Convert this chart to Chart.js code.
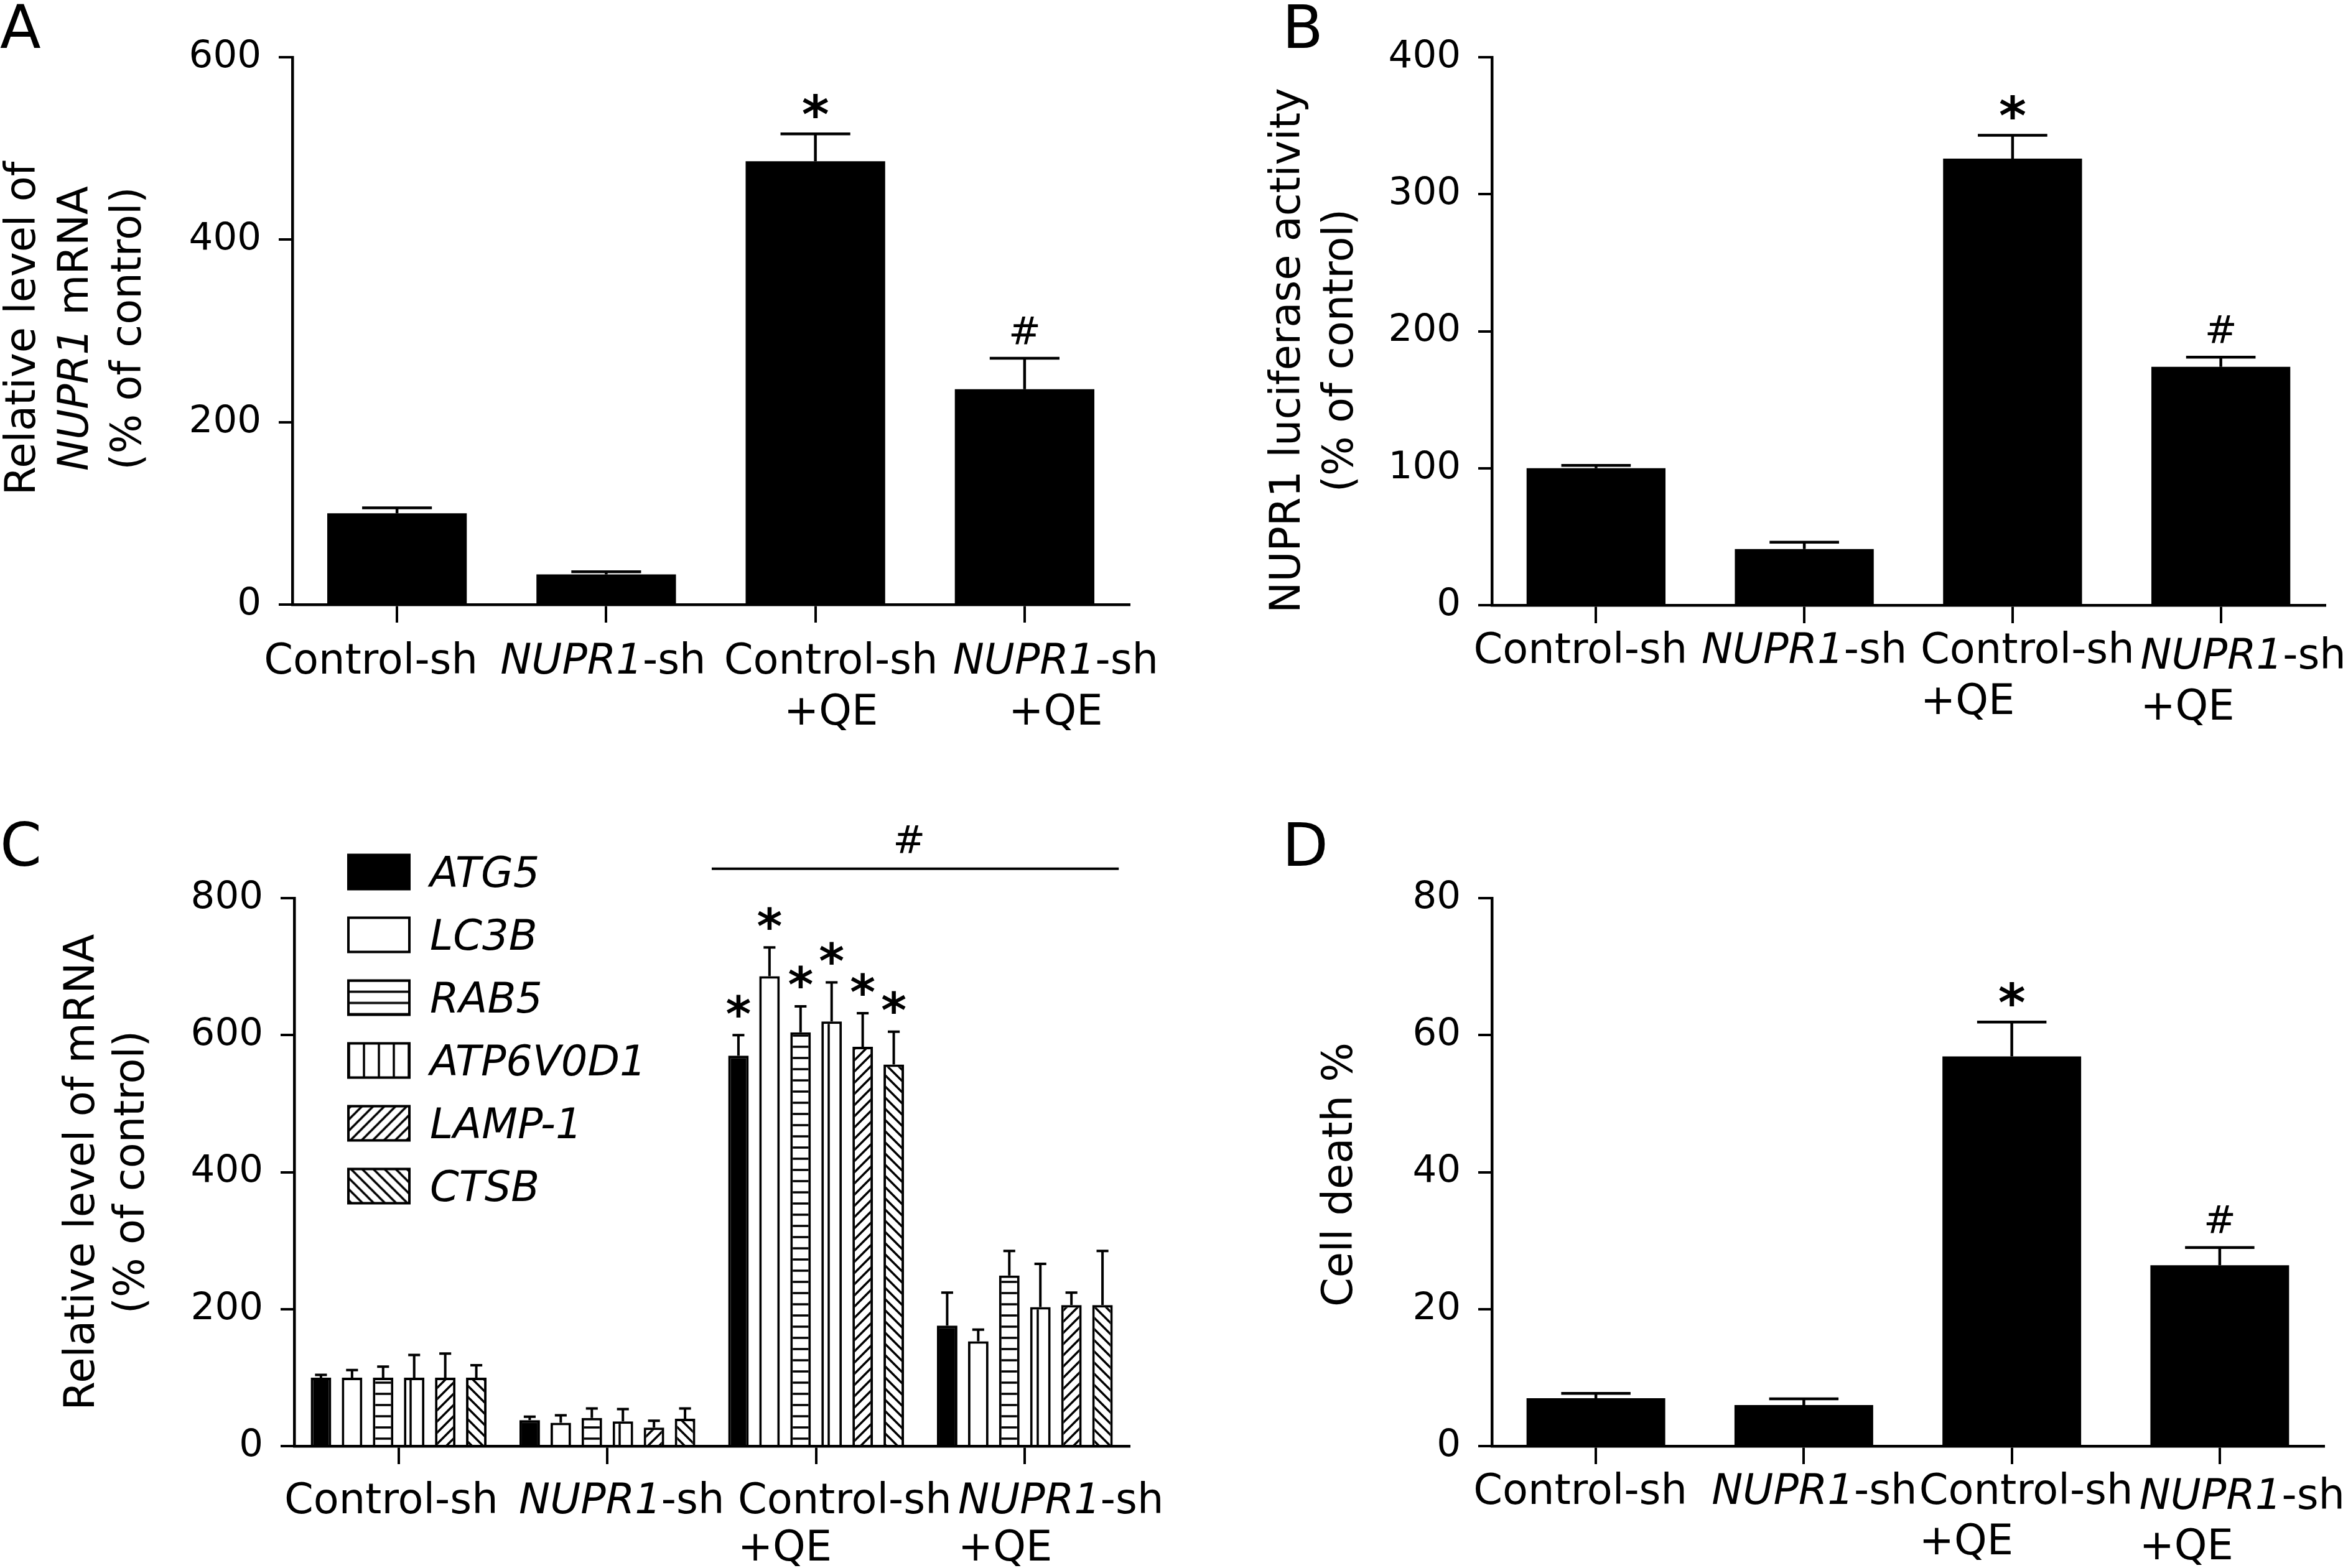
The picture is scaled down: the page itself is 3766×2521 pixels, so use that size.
<!DOCTYPE html>
<html>
<head>
<meta charset="utf-8">
<script src="https://cdn.jsdelivr.net/npm/chart.js@4.4.0/dist/chart.umd.min.js"></script>
<style>
  body { margin: 0; background: #fff; }
  #wrap { position: relative; width: 3766px; height: 2521px; background: #fff; }
  canvas { position: absolute; }
</style>
</head>
<body>
<div id="wrap">
  <canvas id="panelA" width="1883" height="1260" style="left:0px;top:0px"></canvas>
  <canvas id="panelB" width="1883" height="1260" style="left:1883px;top:0px"></canvas>
  <canvas id="panelC" width="1883" height="1261" style="left:0px;top:1260px"></canvas>
  <canvas id="panelD" width="1883" height="1261" style="left:1883px;top:1260px"></canvas>
</div>
<script>
// groups on the x axis, text between _ _ is set in italics
const groupLabels = [['Control-sh'], ['_NUPR1_-sh'], ['Control-sh', '+QE'], ['_NUPR1_-sh', '+QE']];

// A - NUPR1 mRNA
const mrnaTicks = [0, 200, 400, 600];
const mrnaMean = [100, 33, 486, 236];
const mrnaSem = [6, 3, 30, 34];
const mrnaMarks = ['', '', '*', '#'];

// B - NUPR1 luciferase
const lucTicks = [0, 100, 200, 300, 400];
const lucMean = [100, 41, 326, 174];
const lucSem = [2, 5, 17, 7];
const lucMarks = ['', '', '*', '#'];

// C - autophagy / lysosome genes
const geneTicks = [0, 200, 400, 600, 800];
const geneNames = ['ATG5', 'LC3B', 'RAB5', 'ATP6V0D1', 'LAMP-1', 'CTSB'];
const atg5Mean = [100, 38, 570, 176];
const atg5Sem = [4, 5, 30, 48];
const lc3bMean = [100, 34, 686, 153];
const lc3bSem = [11, 11, 42, 17];
const rab5Mean = [100, 41, 604, 249];
const rab5Sem = [16, 14, 38, 36];
const atp6Mean = [100, 36, 620, 203];
const atp6Sem = [33, 18, 57, 63];
const lamp1Mean = [100, 27, 583, 206];
const lamp1Sem = [35, 10, 49, 18];
const ctsbMean = [100, 40, 557, 206];
const ctsbSem = [18, 15, 48, 79];
const geneMarks = ['', '', '*', ''];
const geneBracketMark = '#';

// D - cell death
const deathTicks = [0, 20, 40, 60, 80];
const deathMean = [7.0, 6.0, 56.9, 26.4];
const deathSem = [0.7, 0.9, 5.0, 2.6];
const deathMarks = ['', '', '*', '#'];

Chart.defaults.font.family = '"DejaVu Sans"';
Chart.defaults.color = '#000';

const FS = 67;

function hatch(kind) {
  if (kind === 'solid') return '#000';
  if (kind === 'open') return '#fff';
  const s = kind === 'h' ? 18 : (kind === 'v' ? 24 : 18);
  const c = document.createElement('canvas');
  c.width = s; c.height = s;
  const g = c.getContext('2d');
  g.fillStyle = '#fff';
  g.fillRect(0, 0, s, s);
  g.strokeStyle = '#000';
  g.lineWidth = 3.5;
  g.lineCap = 'square';
  g.beginPath();
  if (kind === 'h') { g.moveTo(0, s / 2); g.lineTo(s, s / 2); }
  else if (kind === 'v') { g.moveTo(s / 2, 0); g.lineTo(s / 2, s); }
  else if (kind === 'fwd') {
    g.moveTo(0, s); g.lineTo(s, 0);
    g.moveTo(-s / 4, s / 4); g.lineTo(s / 4, -s / 4);
    g.moveTo(3 * s / 4, 5 * s / 4); g.lineTo(5 * s / 4, 3 * s / 4);
  } else {
    g.moveTo(0, 0); g.lineTo(s, s);
    g.moveTo(-s / 4, 3 * s / 4); g.lineTo(s / 4, 5 * s / 4);
    g.moveTo(3 * s / 4, -s / 4); g.lineTo(5 * s / 4, s / 4);
  }
  g.stroke();
  return g.createPattern(c, 'repeat');
}

// draw a string where _..._ parts are italic
function rich(ctx, text, x, y, size, align, baseline) {
  const parts = text.split('_');
  const fonts = parts.map((p, k) => (k % 2 ? 'italic ' : '') + size + 'px "DejaVu Sans"');
  let total = 0;
  const ws = parts.map((p, k) => {
    ctx.font = fonts[k];
    const w = ctx.measureText(p).width;
    total += w;
    return w;
  });
  let cx = align === 'center' ? x - total / 2 : x;
  ctx.textAlign = 'left';
  ctx.textBaseline = baseline || 'alphabetic';
  parts.forEach((p, k) => {
    ctx.font = fonts[k];
    ctx.fillText(p, cx, y);
    cx += ws[k];
  });
  return total;
}

function drawMark(ctx, mark, x, cy, starFont, hashFont) {
  ctx.font = mark === '*' ? starFont : hashFont;
  ctx.textAlign = 'center';
  ctx.textBaseline = 'alphabetic';
  const m = ctx.measureText(mark);
  ctx.fillText(mark, x, cy + (m.actualBoundingBoxAscent - m.actualBoundingBoxDescent) / 2);
}

const errorBars = {
  id: 'errorBars',
  afterDatasetsDraw(chart, args, o) {
    const ctx = chart.ctx;
    const ys = chart.scales.y;
    ctx.save();
    ctx.strokeStyle = '#000';
    ctx.fillStyle = '#000';
    ctx.lineWidth = o.lineWidth;
    chart.data.datasets.forEach((ds, di) => {
      chart.getDatasetMeta(di).data.forEach((bar, i) => {
        const top = ys.getPixelForValue(ds.data[i] + ds.sem[i]);
        const half = bar.width * o.cap / 2;
        ctx.beginPath();
        ctx.moveTo(bar.x, bar.y);
        ctx.lineTo(bar.x, top);
        ctx.moveTo(bar.x - half, top);
        ctx.lineTo(bar.x + half, top);
        ctx.stroke();
        if (ds.marks && ds.marks[i]) {
          drawMark(ctx, ds.marks[i], bar.x, top - o.gap, o.starFont, o.hashFont);
        }
      });
    });
    ctx.restore();
  }
};

const panelText = {
  id: 'panelText',
  afterDraw(chart, args, o) {
    const ctx = chart.ctx;
    const xs = chart.scales.x, ys = chart.scales.y;
    const area = chart.chartArea;
    ctx.save();
    ctx.fillStyle = '#000';
    ctx.strokeStyle = '#000';

    // panel letter
    ctx.font = '96px "DejaVu Sans"';
    ctx.textAlign = 'left';
    ctx.textBaseline = 'alphabetic';
    ctx.fillText(o.letter, o.letterX, o.letterY);

    // y axis title
    const cy = (area.top + area.bottom) / 2 + o.titleShift;
    o.title.forEach((line, i) => {
      ctx.save();
      ctx.translate(o.titleX[i], cy);
      ctx.rotate(-Math.PI / 2);
      rich(ctx, line, 0, 0, FS, 'center', 'middle');
      ctx.restore();
    });

    // category labels
    chart.data.labels.forEach((lines, i) => {
      const cx = xs.getPixelForValue(i) + o.labelDx[i];
      const drop = i === 3 ? o.lastDrop : 0;
      let w0 = 0;
      lines.forEach((line, j) => {
        const by = area.bottom + o.labelBase[j] + drop;
        if (j === 0) w0 = rich(ctx, line, cx, by, FS, 'center');
        else if (o.labelAlign === 'left') rich(ctx, line, cx - w0 / 2, by, FS, 'left');
        else rich(ctx, line, cx, by, FS, 'center');
      });
    });

    // legend (pattern shifted so the stripes sit inside the box)
    if (o.legend) {
      const L = o.legend;
      chart.data.datasets.forEach((ds, k) => {
        const top = L.y + k * L.step - L.h / 2;
        ctx.save();
        ctx.translate(L.x + 13, top + 9);
        ctx.fillStyle = ds.backgroundColor;
        ctx.fillRect(-13, -9, L.w, L.h);
        ctx.lineWidth = 4;
        ctx.strokeRect(-13, -9, L.w, L.h);
        ctx.restore();
        ctx.fillStyle = '#000';
        rich(ctx, '_' + ds.label + '_', L.textX, top + L.h / 2 + 0.365 * FS, FS, 'left');
      });
    }

    // significance bracket over the QE groups
    if (o.bracket) {
      const B = o.bracket;
      const x1 = xs.getPixelForValue(B.from), x2 = xs.getPixelForValue(B.to);
      const yl = ys.getPixelForValue(B.at);
      ctx.lineWidth = 4;
      ctx.beginPath();
      ctx.moveTo(x1, yl);
      ctx.lineTo(x2, yl);
      ctx.stroke();
      drawMark(ctx, B.mark, (x1 + x2) / 2 - 10, ys.getPixelForValue(B.markAt), '', '62px "DejaVu Sans"');
    }
    ctx.restore();
  }
};

function makeChart(id, datasets, ticks, area, text, bars) {
  const canvas = document.getElementById(id);
  return new Chart(canvas, {
    type: 'bar',
    data: { labels: groupLabels, datasets: datasets },
    options: {
      responsive: false,
      animation: false,
      devicePixelRatio: 1,
      events: [],
      layout: { padding: { top: area.top, right: canvas.width - area.right, left: 0, bottom: 0 } },
      scales: {
        x: {
          offset: true,
          z: 1,
          grid: { offset: false, drawOnChartArea: false, tickLength: 29, color: '#000', lineWidth: 4 },
          border: { display: true, color: '#000', width: 4.5 },
          ticks: { display: false },
          afterFit: s => { s.height = canvas.height - area.bottom; }
        },
        y: {
          min: ticks[0],
          max: ticks[ticks.length - 1],
          ticks: { stepSize: ticks[1] - ticks[0], color: '#000', font: { size: 61 }, padding: 28 },
          grid: { drawOnChartArea: false, tickLength: 22, color: '#000', lineWidth: 4 },
          border: { display: true, color: '#000', width: 4.5 },
          afterFit: s => { s.width = area.left; }
        }
      },
      plugins: {
        legend: { display: false },
        tooltip: { enabled: false },
        errorBars: bars,
        panelText: text
      }
    },
    plugins: [errorBars, panelText]
  });
}

function solidSet(mean, sem, marks) {
  return [{
    data: mean, sem: sem, marks: marks,
    backgroundColor: '#000', borderWidth: 0,
    categoryPercentage: 0.667, barPercentage: 1
  }];
}

const bigMarks = { lineWidth: 4.5, cap: 0.5, gap: 45, starFont: 'bold 84px "DejaVu Sans"', hashFont: '62px "DejaVu Sans"' };

makeChart('panelA', solidSet(mrnaMean, mrnaSem, mrnaMarks), mrnaTicks,
  { left: 470, top: 92, right: 1815, bottom: 972 },
  { letter: 'A', letterX: 0, letterY: 77,
    title: ['Relative level of', '_NUPR1_ mRNA', '(% of control)'], titleX: [39, 124, 209], titleShift: -4,
    labelDx: [-42, -5, 25, 50], labelBase: [111, 193], labelAlign: 'center', lastDrop: 0 },
  bigMarks);

makeChart('panelB', solidSet(lucMean, lucSem, lucMarks), lucTicks,
  { left: 515, top: 92, right: 1854, bottom: 973 },
  { letter: 'B', letterX: 178, letterY: 77,
    title: ['NUPR1 luciferase activity', '(% of control)'], titleX: [189, 274], titleShift: 31,
    labelDx: [-25, 0, 24, 36], labelBase: [93, 175], labelAlign: 'left', lastDrop: 9 },
  bigMarks);

const geneMeans = [atg5Mean, lc3bMean, rab5Mean, atp6Mean, lamp1Mean, ctsbMean];
const geneSems = [atg5Sem, lc3bSem, rab5Sem, atp6Sem, lamp1Sem, ctsbSem];
const geneFills = ['solid', 'open', 'h', 'v', 'fwd', 'back'];
const geneSets = geneNames.map((name, k) => ({
  label: name, data: geneMeans[k], sem: geneSems[k], marks: geneMarks,
  backgroundColor: hatch(geneFills[k]), borderColor: '#000', borderWidth: 4,
  categoryPercentage: 0.893, barPercentage: 0.66
}));

makeChart('panelC', geneSets, geneTicks,
  { left: 473, top: 184, right: 1815, bottom: 1065 },
  { letter: 'C', letterX: 0, letterY: 132,
    title: ['Relative level of mRNA', '(% of control)'], titleX: [134, 214], titleShift: 0,
    labelDx: [-12, 23, 46, 58], labelBase: [108, 184], labelAlign: 'left', lastDrop: 0,
    legend: { x: 560, w: 98, h: 55, y: 142, step: 101, textX: 691 },
    bracket: { from: 1.5, to: 3.45, at: 843, markAt: 886, mark: geneBracketMark } },
  { lineWidth: 4, cap: 0.58, gap: 47, starFont: 'bold 78px "DejaVu Sans"', hashFont: '62px "DejaVu Sans"' });

makeChart('panelD', solidSet(deathMean, deathSem, deathMarks), deathTicks,
  { left: 515, top: 184, right: 1852, bottom: 1065 },
  { letter: 'D', letterX: 178, letterY: 132,
    title: ['Cell death %'], titleX: [273], titleShift: 4,
    labelDx: [-25, 17, 23, 36], labelBase: [93, 174], labelAlign: 'left', lastDrop: 8 },
  bigMarks);
</script>
</body>
</html>
